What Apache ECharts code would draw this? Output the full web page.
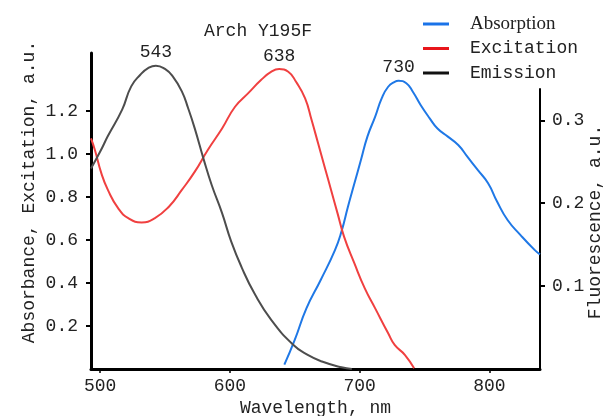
<!DOCTYPE html>
<html>
<head>
<meta charset="utf-8">
<script src="https://cdn.jsdelivr.net/npm/echarts@6/dist/echarts.min.js"></script>
<style>
html, body { margin: 0; padding: 0; background: #fff; }
#spectra { width: 605px; height: 416px; }
</style>
</head>
<body>
<div id="spectra"></div>
<script>
// Arch Y195F spectra
var absWl = [642, 650, 659, 670, 681, 686, 691, 696, 701, 706, 712, 717, 722, 727, 730, 736, 741, 747, 754, 760, 768, 776, 783, 791, 799, 806, 814, 824, 835, 839];
var absVal = [0.02, 0.135, 0.282, 0.414, 0.553, 0.639, 0.755, 0.864, 0.972, 1.081, 1.174, 1.259, 1.313, 1.336, 1.341, 1.329, 1.290, 1.228, 1.166, 1.119, 1.081, 1.042, 0.988, 0.926, 0.864, 0.778, 0.693, 0.623, 0.553, 0.533];

var excWl = [493, 496, 501, 506, 514, 522, 532, 542, 553, 563, 573, 583, 594, 604, 614, 624, 632, 638, 645, 651, 658, 663, 668, 673, 678, 683, 688, 696, 704, 712, 722, 727, 735, 742];
var excVal = [1.073, 1.019, 0.910, 0.833, 0.747, 0.701, 0.682, 0.701, 0.755, 0.833, 0.918, 1.019, 1.119, 1.220, 1.282, 1.344, 1.383, 1.395, 1.383, 1.336, 1.259, 1.158, 1.050, 0.941, 0.833, 0.724, 0.616, 0.491, 0.375, 0.282, 0.166, 0.112, 0.065, 0.003];

// emission is read on the right (fluorescence) axis
var emWl = [493, 500, 506, 517, 524, 531, 537, 543, 550, 556, 563, 568, 573, 580, 586, 594, 601, 609, 619, 632, 649, 660, 671, 686, 694];
var emVal = [0.242, 0.262, 0.281, 0.313, 0.341, 0.355, 0.363, 0.366, 0.362, 0.353, 0.335, 0.314, 0.290, 0.252, 0.222, 0.188, 0.154, 0.123, 0.091, 0.059, 0.029, 0.017, 0.009, 0.002, 0];

var xTicks = [500, 600, 700, 800];
var leftTicks = [0.2, 0.4, 0.6, 0.8, 1.0, 1.2];
var rightTicks = [0.1, 0.2, 0.3];

var mono = "'Liberation Mono', 'DejaVu Sans Mono', monospace";
var ink = '#222';

// [wl, value] pairs, the highest point gets its wavelength written above it
function spectrum(xs, ys) {
  var top = ys.indexOf(Math.max.apply(null, ys));
  return xs.map(function (x, i) {
    if (i !== top) return [x, ys[i]];
    return {
      value: [x, ys[i]],
      label: {
        show: true,
        position: 'top',
        distance: 4,
        formatter: String(x),
        color: ink,
        fontFamily: mono,
        fontSize: 18
      }
    };
  });
}

var myChart = echarts.init(document.getElementById('spectra'));
myChart.setOption({
  animation: false,
  title: {
    text: 'Arch Y195F',
    left: 204,
    top: 22,
    padding: 0,
    textStyle: {fontFamily: mono, fontSize: 18, fontWeight: 'normal', color: ink}
  },
  legend: {
    orient: 'vertical',
    left: 423,
    top: 14,
    padding: 0,
    icon: 'rect',
    itemWidth: 26,
    itemHeight: 3,
    itemGap: 4.5,
    textStyle: {
      fontFamily: mono, fontSize: 18, color: ink, lineHeight: 20,
      padding: [0, 0, 0, 16],
      rich: {
        serif: {fontFamily: "'Liberation Serif', 'DejaVu Serif', serif", fontSize: 19, color: ink}
      }
    },
    formatter: function (name) {
      return name === 'Absorption' ? '{serif|' + name + '}' : name;
    },
    data: [
      {name: 'Absorption', itemStyle: {color: '#1a73e8'}},
      {name: 'Excitation', itemStyle: {color: '#e8161b'}},
      {name: 'Emission', itemStyle: {color: '#111'}}
    ]
  },
  grid: [
    {left: 91, right: 65, top: 53, bottom: 47, outerBoundsMode: 'none'},
    {left: 91, right: 65, top: 89, bottom: 47, outerBoundsMode: 'none'}
  ],
  xAxis: [{
    gridIndex: 0,
    type: 'value',
    min: 493,
    max: 839,
    name: 'Wavelength, nm',
    nameLocation: 'middle',
    nameGap: 30,
    nameMoveOverlap: false,
    nameTextStyle: {fontFamily: mono, fontSize: 18, color: ink},
    axisLine: {lineStyle: {color: '#000', width: 3}},
    axisTick: {length: 4, customValues: xTicks, lineStyle: {color: '#000', width: 1.5}},
    axisLabel: {customValues: xTicks, margin: 8, fontFamily: mono, fontSize: 18, color: ink},
    splitLine: {show: false}
  }, {
    gridIndex: 1,
    type: 'value',
    min: 493,
    max: 839,
    show: false
  }],
  yAxis: [{
    gridIndex: 0,
    type: 'value',
    min: 0,
    max: 1.47,
    position: 'left',
    name: 'Absorbance, Excitation, a.u.',
    nameLocation: 'middle',
    nameGap: 53,
    nameMoveOverlap: false,
    nameTextStyle: {fontFamily: mono, fontSize: 18, color: ink, padding: [0, 0, 0, 38]},
    axisLine: {show: true, lineStyle: {color: '#000', width: 3}},
    axisTick: {show: true, length: 5, customValues: leftTicks, lineStyle: {color: '#000', width: 2}},
    axisLabel: {customValues: leftTicks, margin: 13, fontFamily: mono, fontSize: 18, color: ink,
      formatter: function (v) { return v.toFixed(1); }},
    splitLine: {show: false}
  }, {
    gridIndex: 1,
    type: 'value',
    min: 0,
    max: 0.3378,
    position: 'right',
    name: 'Fluorescence, a.u.',
    nameLocation: 'middle',
    nameRotate: 90,
    nameGap: 46,
    nameMoveOverlap: false,
    nameTextStyle: {fontFamily: mono, fontSize: 18, color: ink, padding: [0, 0, 0, 14]},
    axisLine: {show: true, lineStyle: {color: '#000', width: 2}},
    axisTick: {show: true, length: 5, customValues: rightTicks, lineStyle: {color: '#000', width: 2}},
    axisLabel: {customValues: rightTicks, margin: 12, fontFamily: mono, fontSize: 18, color: ink,
      formatter: function (v) { return v.toFixed(1); }},
    splitLine: {show: false}
  }],
  series: [{
    name: 'Absorption',
    type: 'line',
    xAxisIndex: 0,
    yAxisIndex: 0,
    data: spectrum(absWl, absVal),
    smooth: 0.5,
    symbol: 'circle',
    symbolSize: 0,
    showSymbol: true,
    lineStyle: {color: '#1f78e6', width: 2},
    itemStyle: {color: '#1a73e8'}
  }, {
    name: 'Excitation',
    type: 'line',
    xAxisIndex: 0,
    yAxisIndex: 0,
    data: spectrum(excWl, excVal),
    smooth: 0.5,
    symbol: 'circle',
    symbolSize: 0,
    showSymbol: true,
    lineStyle: {color: '#f04040', width: 2},
    itemStyle: {color: '#e8161b'}
  }, {
    name: 'Emission',
    type: 'line',
    xAxisIndex: 1,
    yAxisIndex: 1,
    data: spectrum(emWl, emVal),
    smooth: 0.5,
    clip: false,
    symbol: 'circle',
    symbolSize: 0,
    showSymbol: true,
    lineStyle: {color: '#4d4d4d', width: 2},
    itemStyle: {color: '#111'}
  }]
});
</script>
</body>
</html>
